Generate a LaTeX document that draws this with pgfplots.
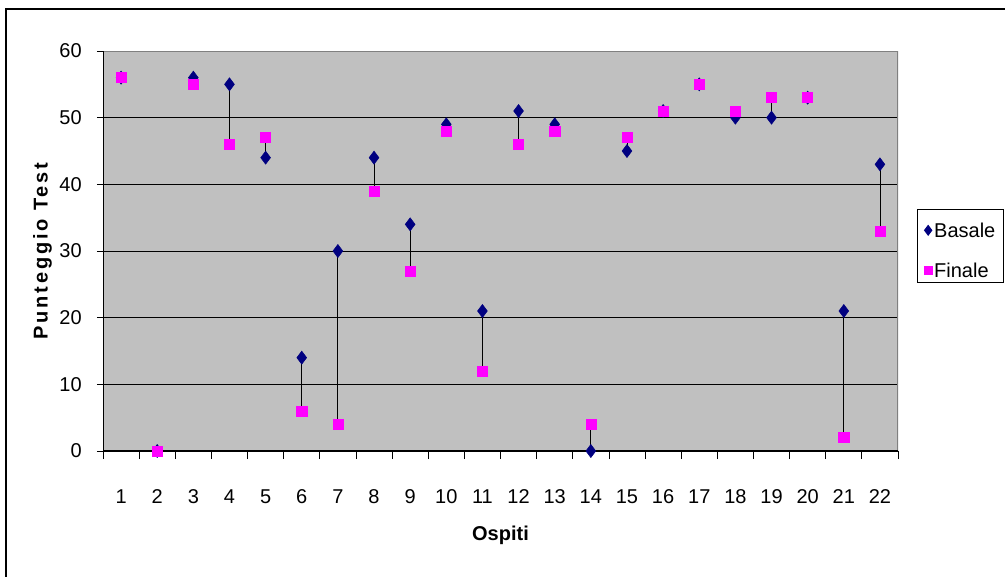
\documentclass[border=0pt]{standalone}
\usepackage{fontspec}
\setmainfont{Liberation Sans}
\usepackage{pgfplots}
\usepackage{pgfplotstable}
\pgfplotsset{compat=1.18}
\definecolor{navyb}{RGB}{0,0,128}
\definecolor{mag}{RGB}{255,0,255}
\definecolor{plotgray}{RGB}{192,192,192}
\definecolor{bordergray}{RGB}{128,128,128}
\pgfplotsset{mylegimg/.style={legend image code/.code={\draw[mark repeat=2,mark phase=2,##1] plot coordinates {(-2pt,-3.1pt) (0pt,-3.1pt) (2pt,-3.1pt)};}}}

% x = ospite, b = Basale, f = Finale, lo = min(b,f), d = |b-f|
\pgfplotstableread{
x  b   f   lo  d
1  56  56  56  0
2  0   0   0   0
3  56  55  55  1
4  55  46  46  9
5  44  47  44  3
6  14  6   6   8
7  30  4   4   26
8  44  39  39  5
9  34  27  27  7
10 49  48  48  1
11 21  12  12  9
12 51  46  46  5
13 49  48  48  1
14 0   4   0   4
15 45  47  45  2
16 51  51  51  0
17 55  55  55  0
18 50  51  50  1
19 50  53  50  3
20 53  53  53  0
21 21  2   2   19
22 43  33  33  10
}\datatable

\begin{document}
\begin{tikzpicture}
\useasboundingbox (-77.25pt,-93.75pt) rectangle (676.5pt,338.25pt);
\draw[black, line width=0.9pt] (-72.75pt,-110pt) -- (-72.75pt,331.5pt) -- (720pt,331.5pt);
\begin{axis}[
  at={(0,0)}, anchor=south west,
  scale only axis, width=596.25pt, height=300pt,
  xmin=0.5, xmax=22.5, ymin=0, ymax=60,
  axis background/.style={fill=plotgray},
  axis line style={draw=none},
  tick pos=left,
  xtick={1,...,22},
  major x tick style={draw=none},
  minor xtick={0.5,1.5,...,22.5},
  ytick={0,10,...,60},
  tick align=outside,
  major tick length=4.5pt, minor tick length=6pt,
  tick style={black, line width=0.6pt},
  ymajorgrids, grid style={black, line width=0.6pt},
  /pgf/number format/assume math mode=true,
  ticklabel style={font=\fontsize{15pt}{18pt}\selectfont},
  yticklabel style={anchor=east, inner sep=0pt, xshift=-11.25pt},
  xticklabel style={anchor=base, inner sep=0pt, yshift=-34.5pt},
  every axis y label/.style={at={(axis description cs:-0.076,0.5)}, rotate=90, anchor=center, font=\fontsize{15pt}{18pt}\selectfont\bfseries\addfontfeature{LetterSpace=14}},
  every axis x label/.style={at={(axis description cs:0.5,-0.21)}, anchor=center, font=\fontsize{15pt}{18pt}\selectfont\bfseries},
  ylabel={Punteggio Test},
  xlabel={Ospiti},
  legend style={at={(1.0239,0.605)}, anchor=north west, draw=black, line width=0.75pt, fill=white,
    font=\fontsize{15pt}{18pt}\selectfont, row sep=10pt, inner xsep=5pt, inner ysep=2.5pt,
    nodes={inner sep=1.5pt, text height=17pt, text depth=0pt}},
  legend cell align=left,
]
\draw[bordergray, line width=1pt] (rel axis cs:0,1) -- (rel axis cs:1,1) -- (rel axis cs:1,0);
\draw[black, line width=1pt] (rel axis cs:0,1) -- (rel axis cs:0,0) -- (rel axis cs:1,0);
\addplot[draw=none, mark=none, forget plot,
  error bars/.cd, y dir=plus, y explicit, error mark=none,
  error bar style={draw=black, line width=0.6pt}]
  table[x=x, y=lo, y error=d] {\datatable};
\addplot[only marks, mark=diamond*, mark size=4.9pt, color=navyb, forget plot]
  table[x=x, y=b] {\datatable};
\addplot[only marks, mark=square*, mark size=3.8pt, color=mag, forget plot]
  table[x=x, y=f] {\datatable};
\addlegendimage{only marks, mark=diamond*, mark size=3.6pt, color=navyb, mylegimg}
\addlegendentry{Basale}
\addlegendimage{only marks, mark=square*, mark size=3pt, color=mag, mylegimg}
\addlegendentry{Finale}
\end{axis}
\end{tikzpicture}
\end{document}
